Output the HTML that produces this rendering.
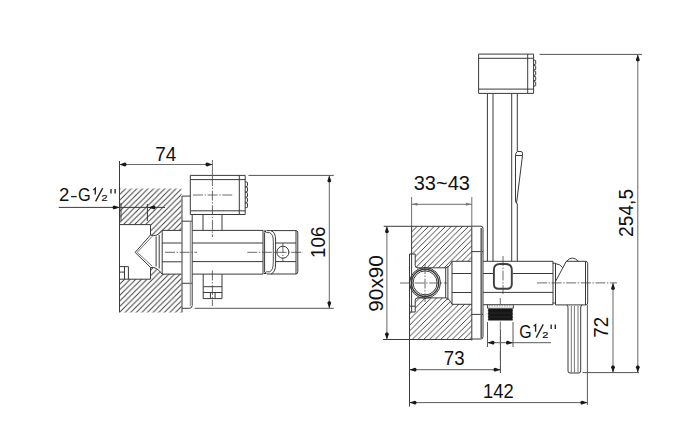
<!DOCTYPE html>
<html><head><meta charset="utf-8">
<style>
html,body{margin:0;padding:0;background:#fff;width:699px;height:443px;overflow:hidden}
svg{display:block}
text{font-family:"Liberation Sans",sans-serif;fill:#111;font-size:20px}
</style></head><body>
<svg width="699" height="443" viewBox="0 0 699 443">
<defs>
<pattern id="h" patternUnits="userSpaceOnUse" width="5.6" height="5.6" patternTransform="translate(0.7,0)">
<path d="M-1,1 L1,-1 M0,5.6 L5.6,0 M4.6,6.6 L6.6,4.6" stroke="#3a3a3a" stroke-width="0.95" fill="none"/>
</pattern>
<pattern id="h2" patternUnits="userSpaceOnUse" width="5.7" height="5.7" patternTransform="translate(5.1,0)">
<path d="M-1,1 L1,-1 M0,5.7 L5.7,0 M4.7,6.7 L6.7,4.7" stroke="#3a3a3a" stroke-width="0.95" fill="none"/>
</pattern>
</defs>

<!-- ============ LEFT VIEW ============ -->
<path fill="url(#h)" fill-rule="evenodd" d="M119.5,188.4 H181.5 V312.4 H119.5 Z
 M119.5,224.5 H150.5 V235 Q157,237.5 162,230.4 H181.5 V274.1 H162 Q157,266.5 150.5,267.4 V279.2 H119.5 Z"/>

<!-- center lines left -->
<g fill="none" stroke="#505050" stroke-width="0.85" stroke-dasharray="10,1.6,1.4,1.6">
 <path d="M212.4,176 V237"/>
 <path d="M212.4,270.5 V306"/>
 <path d="M165,252.3 H197"/>
 <path d="M247.3,252.3 H303"/>
 <path d="M193,195 H233"/>
 <path d="M282.9,243 V262"/>
</g>

<g fill="none" stroke="#3a3a3a" stroke-width="1">
 <path d="M119.5,161 V312.4"/>
 <!-- cavity -->
 <path d="M119.5,224.6 H150.5 V235"/>
 <path d="M119.5,279.2 H150.5 V267.4"/>
 <path d="M119.5,266.6 H128.4 V279.2 M124.5,266.6 V279.2 M119.5,272.1 H124.5"/>
 <!-- cone -->
 <path d="M150.5,235 L135.1,252.4 L150.5,267.4"/>
 <path d="M152.3,236.2 L137.2,252.4 L152.3,266.2" stroke-width="0.7"/>
 <path d="M150.5,235 Q157,237.5 162,230.4"/>
 <path d="M150.5,267.4 Q157,266.5 162,274.1"/>
 <path d="M156.1,236.4 V266.5 M159.2,235 V268.5 M162.2,230.4 V274.1"/>
 <!-- body inside wall -->
 <path d="M162,230.4 H181.5 M162,274.1 H181.5 M162,243 H181.5 M162,261.8 H181.5"/>
 <!-- escutcheon -->
 <path d="M182,196.1 H190.3 M182,196.1 V312.4 M192.2,214.5 V305.5 Q192.2,308.3 189.5,308.3 H182 M182,221.2 H192.2 M182,283.3 H192.2"/><path stroke="#888" d="M190.3,221.2 V306"/>
 <!-- shower box -->
 <path d="M190.3,175.4 H245.2 V214.5 H190.3 Z M190.3,179.6 H245.2 M190.3,210.8 H245.2 M239.3,175.4 V214.5"/>
 <path d="M245.2,182 h1.6 q0.7,0 0.7,0.7 v3 q0,0.7 -0.7,0.7 h-1.6 M245.2,187.3 h1.6 q0.7,0 0.7,0.7 v3 q0,0.7 -0.7,0.7 h-1.6 M245.2,192.6 h1.6 q0.7,0 0.7,0.7 v3 q0,0.7 -0.7,0.7 h-1.6 M245.2,197.9 h1.6 q0.7,0 0.7,0.7 v3 q0,0.7 -0.7,0.7 h-1.6 M245.2,203.2 h1.6 q0.7,0 0.7,0.7 v3 q0,0.7 -0.7,0.7 h-1.6"/>
 <!-- stem top -->
 <path d="M203,214.5 V230.4 M222,214.5 V230.4"/>
 <!-- main body -->
 <path d="M192.2,230.4 H263 M192.2,274.1 H263 M192.2,243 H263 M192.2,261.6 H263"/>
 <!-- cartridge cap -->
 <path d="M263,230.4 V274.1 M264.6,232.5 V272"/>
 <path d="M266.8,230.6 H270.9 Q275.6,232 275.6,240 V264 Q275.6,272.6 270.9,274 H266.8"/>
 <path d="M266.2,232.6 H269.5 Q273.3,234 273.3,241.3 V262.5 Q273.3,270.4 269.5,271.8 H266.2" stroke-width="0.9"/>
 <path d="M263.6,230.6 h3.2 l-1.6,2.2 z M263.6,273.9 h3.2 l-1.6,-2.2 z" fill="#222" stroke="none"/>
 <!-- handle end -->
 <path d="M271,230.6 H296 Q297.8,230.6 297.8,233 V271.6 Q297.8,274 296,274 H271 M296,230.6 V274 M275.5,243 H296 M275.5,261.6 H296"/>
 <circle cx="282.9" cy="252.2" r="6"/>
 <!-- stem below -->
 <path d="M203.2,274.1 V298.6 H222 V274.1 M203.2,286.7 H222 M203.2,292.5 H222 M210.4,292.5 V298.6 M215.1,292.5 V298.6"/>
 <!-- 106 extension lines -->
 <path stroke="#555" d="M248.4,175.4 H333.8 M194.6,308.3 H333.8"/>
 <path stroke="#666" d="M329.3,175.4 V308.3"/>
 <!-- 74 dim -->
 <path stroke="#6a6a6a" d="M212.4,160 V175.4 M119.5,164.5 H212.4"/>
 <!-- 2-G leader -->
 <path d="M58.7,207.4 H165 M121,202.9 V220.9 M147.4,204 V220.9"/>
</g>
<g fill="#181818">
 <path d="M119.5,164.5 L124.80,166.40 C127.10,166.40 127.10,162.60 124.80,162.60 Z"/>
 <path d="M212.4,164.5 L207.10,162.60 C204.80,162.60 204.80,166.40 207.10,166.40 Z"/>
 <path d="M119.6,207.4 L114.30,205.50 C112.00,205.50 112.00,209.30 114.30,209.30 Z"/>
 <path d="M148.4,207.4 L153.70,209.30 C156.00,209.30 156.00,205.50 153.70,205.50 Z"/>
 <path d="M329.3,175.4 L327.40,180.70 C327.40,183.00 331.20,183.00 331.20,180.70 Z"/>
 <path d="M329.3,308.3 L331.20,303.00 C331.20,300.70 327.40,300.70 327.40,303.00 Z"/>
</g>
<text transform="translate(165.8,160.7) scale(0.95,1)" text-anchor="middle">74</text>
<!-- 2-G1/2'' -->
<g>
 <text transform="translate(58.9,201.4)" style="font-size:18.6px">2</text>
 <text transform="translate(77.9,201.4) scale(0.88,1)" style="font-size:18.6px">G</text>
 <path d="M71.1,196.6 H76.7" stroke="#222" stroke-width="1.35" fill="none"/>
 <text transform="translate(101.4,201.4) scale(1.2,1)" style="font-size:9px;stroke:#1a1a1a;stroke-width:0.2px">2</text>
 <path d="M95.3,194.6 V188.3 L93.3,190 M95.6,201.4 L102.7,188.1 M111,189 V193.6 M115.1,189 V193.6" stroke="#222" stroke-width="1.35" fill="none"/>
</g>
<text transform="translate(325,242.3) rotate(-90) scale(0.94,1)" text-anchor="middle">106</text>

<!-- ============ RIGHT VIEW ============ -->
<path fill="url(#h2)" d="M411.6,226.3 H471.8 V261.3 H452 Q449,267.8 445.7,267.8 H417.5 Q415.2,267.8 415.2,265.3 V254 H411.6 Z
 M409.5,312 H415.2 V300.5 Q415.2,297.9 417.5,297.9 H445.7 Q449,297.9 452,304.3 H471.8 V339.5 H409.5 Z"/>
<!-- center lines right -->
<g fill="none" stroke="#505050" stroke-width="0.85" stroke-dasharray="10,1.6,1.4,1.6">
 <path d="M400,283 H447"/>
 <path d="M425,264 V302"/>
 <path d="M503,256 V294"/>
 <path d="M537,282.9 H617"/>
 <path d="M500.3,298 V304.2 M500.3,321.5 V373"/>
</g>
<g fill="none" stroke="#3a3a3a" stroke-width="1">
 <!-- shower head -->
 <path d="M478.6,54.1 H533.6 V93.4 H478.6 Z M478.6,58.3 H533.6 M478.6,89.1 H533.6 M527.7,54.1 V93.4"/>
 <path d="M533.6,60.2 h1.4 q0.7,0 0.7,0.7 v2.8 q0,0.7 -0.7,0.7 h-1.4 M533.6,65.6 h1.4 q0.7,0 0.7,0.7 v2.8 q0,0.7 -0.7,0.7 h-1.4 M533.6,71 h1.4 q0.7,0 0.7,0.7 v2.8 q0,0.7 -0.7,0.7 h-1.4 M533.6,76.4 h1.4 q0.7,0 0.7,0.7 v2.8 q0,0.7 -0.7,0.7 h-1.4 M533.6,81.8 h1.4 q0.7,0 0.7,0.7 v2.8 q0,0.7 -0.7,0.7 h-1.4"/>
 <!-- pipe -->
 <path d="M487.4,93.4 V261.3 M493,93.4 V261.3 M511.7,93.4 V261.3 M517.3,93.4 V151.5 M517.3,203.5 V261.3"/>
 <!-- clip -->
 <path d="M517.3,151.5 H521 Q522.5,151.5 522.5,153.5 V155.5 L516.5,203.5 L515.5,201 V155.5 Q515.5,153 517.3,151.5 M515.5,155.5 H522.5"/>
 <!-- 33~43 dim -->
 <path d="M411.6,226.3 V312 M409.5,254 V406.5"/>
 <path d="M411.6,197 V226.3 M471.8,197 V226.3 M411.6,204.3 H471.8" stroke="#707070"/>
 <path d="M383.7,226.3 H471.8 M382.9,339.5 H471.8"/>
 <path d="M471.8,226.3 V340.5"/>
 <!-- notch -->
 <path d="M409.5,254 H415.2 V265.3 Q415.2,267.8 417.5,267.8 M409.5,312 H415.2 V300.5 Q415.2,297.9 417.5,297.9 M409.5,306.2 H415.2"/>
 <!-- circle -->
 <circle cx="425.1" cy="282.9" r="15.4"/>
 <circle cx="425.1" cy="282.9" r="13.6" stroke-width="1.4"/>
 <circle cx="425.1" cy="282.9" r="12" stroke-width="1"/>
 <!-- connector -->
 <path d="M417,267.8 H445.7 Q449,267.8 452,261.3 M417,297.9 H445.7 Q449,297.9 452,304.3 M445.7,267.8 V297.9 M447.9,266 V300"/>
 <!-- rect in wall -->
 <path d="M452,261.3 H471.8 M452,304.3 H471.8 M452,261.3 V304.3 M452,273.5 H471.8 M452,292.5 H471.8"/>
 <!-- escutcheon -->
 <path d="M471.8,226.2 H481 Q483,226.2 483,228.5 V336.5 Q483,339 481,339 H471.8 M471.8,251.6 H483 M471.8,314.4 H483"/>
 <path d="M481.2,228 V338" stroke-width="1.6" stroke="#666"/>
 <!-- body -->
 <path d="M483,261.3 H553 M483,304.7 H553 M483,273.5 H493 M512.4,273.5 H553 M483,292.4 H553 M553,261.3 V304.7"/>
 <path d="M493.9,270 Q493.9,264 500,264 H505.6 Q511.8,264 511.8,270 V284 Q511.8,288.8 507,288.8 H498.7 Q493.9,288.8 493.9,284 Z" stroke-width="1.9" stroke="#404040"/>
 <!-- ring -->
 <path d="M552.7,263.2 H555.5 V303 H552.7 M555.5,263.6 Q560,264 562.6,267.6"/>
 <!-- handle block -->
 <path d="M566.3,261.3 H585.5 Q587.7,261.3 587.7,263.5 V303 Q587.7,304.9 585.5,304.9 H555.5 V281.5 L566.3,261.3 M585.5,261.3 V304.9"/>
 <path d="M566.3,261.5 Q572.4,254.5 578.5,261.5"/>
 <!-- lever -->
 <path d="M567,304.9 Q568,306 568,308 V371 Q568,373 570,373 H579 Q580.7,373 580.7,371 V308 Q580.7,306 582,304.9"/>
 <path stroke="#777" d="M571.3,306 V373 M574.4,306 V373 M578,306 V373"/>
 <!-- nut -->
 <path d="M487.6,304.5 V308.3 H513.3 V304.5"/>
 <path d="M489,305.8 H512" stroke="#888" stroke-dasharray="1.5,1"/>
 <!-- G1/2 dim -->
 <path stroke="#5a5a5a" d="M487.5,322 V347 M513,322 V347 M487.5,342.7 H551"/>
 <!-- 72 dim -->
 <path stroke="#666" d="M613,282.9 V372.6"/>
 <!-- 254,5 -->
 <path stroke="#555" d="M539.5,54.4 H642"/><path stroke="#666" d="M637.8,54.4 V372.6"/>
 <path stroke="#555" d="M582.6,372.6 H639"/>
 <!-- 90x90 -->
 <path stroke="#666" d="M386.9,226.3 V339.5"/>
 <!-- 73 / 142 -->
 <path stroke="#5a5a5a" d="M500.5,330 V373 M409.5,369.7 H500.5 M587.4,305 V405 M409.5,402.6 H587.4"/>
</g>
<!-- thread -->
<polygon points="513.2,309.00 512.2,309.73 513.2,310.45 512.2,311.18 513.2,311.90 512.2,312.62 513.2,313.35 512.2,314.08 513.2,314.80 512.2,315.53 513.2,316.25 512.2,316.98 513.2,317.70 512.2,318.43 513.2,319.15 512.2,319.88 513.2,320.60 487.6,320.60 488.6,319.88 487.6,319.15 488.6,318.43 487.6,317.70 488.6,316.98 487.6,316.25 488.6,315.52 487.6,314.80 488.6,314.07 487.6,313.35 488.6,312.62 487.6,311.90 488.6,311.17 487.6,310.45 488.6,309.72 487.6,309.00" fill="#161616"/>
<path d="M490,313 H511 M490,317 H511" stroke="#333" stroke-width="0.6" fill="none"/>
<g fill="#181818">
 <path fill="#777" d="M411.6,204.3 L417.5,205.8 V202.8 Z"/>
 <path fill="#777" d="M471.8,204.3 L465.9,202.8 V205.8 Z"/>
 <path d="M386.9,226.3 L385.00,231.60 C385.00,233.90 388.80,233.90 388.80,231.60 Z"/>
 <path d="M386.9,339.5 L388.80,334.20 C388.80,331.90 385.00,331.90 385.00,334.20 Z"/>
 <path d="M487.5,342.7 L492.80,344.60 C495.10,344.60 495.10,340.80 492.80,340.80 Z"/>
 <path d="M513.0,342.7 L507.70,340.80 C505.40,340.80 505.40,344.60 507.70,344.60 Z"/>
 <path d="M409.5,369.7 L414.80,371.60 C417.10,371.60 417.10,367.80 414.80,367.80 Z"/>
 <path d="M500.5,369.7 L495.20,367.80 C492.90,367.80 492.90,371.60 495.20,371.60 Z"/>
 <path d="M409.5,402.6 L414.80,404.50 C417.10,404.50 417.10,400.70 414.80,400.70 Z"/>
 <path d="M587.4,402.6 L582.10,400.70 C579.80,400.70 579.80,404.50 582.10,404.50 Z"/>
 <path d="M613.0,282.9 L611.10,288.20 C611.10,290.50 614.90,290.50 614.90,288.20 Z"/>
 <path d="M613.0,372.6 L614.90,367.30 C614.90,365.00 611.10,365.00 611.10,367.30 Z"/>
 <path d="M637.8,54.4 L635.90,59.70 C635.90,62.00 639.70,62.00 639.70,59.70 Z"/>
 <path d="M637.8,372.6 L639.70,367.30 C639.70,365.00 635.90,365.00 635.90,367.30 Z"/>
</g>
<text transform="translate(441.8,189.8) scale(1.0,1)" text-anchor="middle">33~43</text>
<text transform="translate(382.7,283.4) rotate(-90) scale(1.04,1)" text-anchor="middle">90x90</text>
<!-- G1/2'' -->
<g>
 <text transform="translate(519.2,337.6) scale(0.86,1)" style="font-size:18.6px">G</text>
 <text transform="translate(542.2,337.6) scale(1.15,1)" style="font-size:9.6px;stroke:#1a1a1a;stroke-width:0.2px">2</text>
 <path d="M535.6,331.8 V324.6 L533.6,326.3 M536.2,337.6 L543.3,324.4 M551.2,324.6 V329 M555.3,324.6 V329" stroke="#222" stroke-width="1.35" fill="none"/>
</g>
<text transform="translate(454.2,365.1) scale(0.93,1)" text-anchor="middle">73</text>
<text transform="translate(498.3,398.3) scale(0.92,1)" text-anchor="middle">142</text>
<text transform="translate(608.3,327.3) rotate(-90) scale(0.93,1)" text-anchor="middle">72</text>
<text transform="translate(632.5,212.9) rotate(-90) scale(0.96,1)" text-anchor="middle">254,5</text>
</svg>
</body></html>
